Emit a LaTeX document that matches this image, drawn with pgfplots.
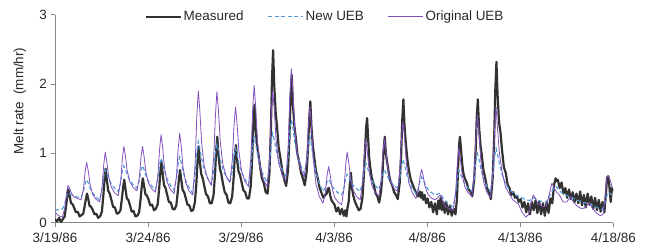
\documentclass[border=0pt]{standalone}
\usepackage{fontspec}
\setmainfont{Liberation Sans}
\usepackage{pgfplots}
\pgfplotsset{compat=1.18}
\definecolor{meas}{RGB}{50,50,50}
\definecolor{newueb}{RGB}{80,155,215}
\definecolor{origueb}{RGB}{130,80,190}
\definecolor{axgray}{RGB}{134,134,134}
\definecolor{txt}{RGB}{40,40,40}
\begin{document}
\begin{tikzpicture}[x=1bp,y=1bp,font=\fontsize{13.5}{16}\selectfont]
\useasboundingbox (0,0) rectangle (649,250);
\begin{axis}[
  at={(55bp,27.3bp)}, anchor=south west,
  width=558.3bp, height=208bp, scale only axis,
  xmin=0, xmax=30, ymin=0, ymax=3,
  axis x line*=bottom, axis y line*=left,
  axis line style={axgray, line width=0.8pt},
  xtick={0,5,10,15,20,25,30},
  xticklabels={3/19/86,3/24/86,3/29/86,4/3/86,4/8/86,4/13/86,4/18/86},
  ytick={0,1,2,3},
  tick align=outside, major tick length=4.5bp,
  tick style={axgray, line width=0.8pt},
  ticklabel style={text=txt},
  xticklabel style={yshift=-2.5bp},
  /pgf/number format/assume math mode=true,
  ylabel={Melt rate\ \ (mm/hr)},
  ylabel style={at={(axis description cs:-0.063,0.585)}, anchor=center, text=txt},
  legend columns=3,
  legend style={at={(0.4836,0.99)}, anchor=center, draw=none, fill=none, text=txt,
    /tikz/every even column/.append style={column sep=22bp}},
  legend image code/.code={\draw[#1] (0bp,0bp) -- (35bp,0bp);},
]
\addplot[meas, line width=2.2pt, line join=round] coordinates {
(0.00,0.05) (0.12,0.02) (0.22,0.07) (0.32,0.01) (0.42,0.05) (0.52,0.09) (0.60,0.25) (0.66,0.38) (0.72,0.48) (0.78,0.40) (0.86,0.28) (0.94,0.27)
(1.02,0.22) (1.12,0.15) (1.22,0.16) (1.32,0.09) (1.42,0.11) (1.52,0.13) (1.60,0.25) (1.66,0.34) (1.72,0.42) (1.78,0.35) (1.86,0.24) (1.94,0.23)
(2.02,0.19) (2.12,0.12) (2.22,0.13) (2.32,0.07) (2.42,0.09) (2.52,0.16) (2.60,0.40) (2.66,0.62) (2.72,0.78) (2.78,0.63) (2.86,0.46) (2.94,0.42)
(3.02,0.34) (3.12,0.23) (3.22,0.22) (3.32,0.13) (3.42,0.14) (3.52,0.18) (3.60,0.36) (3.66,0.51) (3.72,0.62) (3.78,0.50) (3.86,0.35) (3.94,0.33)
(4.02,0.26) (4.12,0.16) (4.22,0.17) (4.32,0.09) (4.42,0.10) (4.52,0.15) (4.60,0.34) (4.66,0.52) (4.72,0.64) (4.78,0.54) (4.86,0.41) (4.94,0.39)
(5.02,0.34) (5.12,0.25) (5.22,0.26) (5.32,0.18) (5.42,0.20) (5.52,0.27) (5.60,0.50) (5.66,0.73) (5.72,0.88) (5.78,0.72) (5.86,0.54) (5.94,0.50)
(6.02,0.41) (6.12,0.30) (6.22,0.29) (6.32,0.20) (6.42,0.19) (6.52,0.25) (6.60,0.45) (6.66,0.63) (6.72,0.76) (6.78,0.63) (6.86,0.47) (6.94,0.44)
(7.02,0.36) (7.12,0.26) (7.22,0.25) (7.32,0.17) (7.42,0.18) (7.52,0.30) (7.60,0.58) (7.66,0.90) (7.72,1.10) (7.78,0.88) (7.86,0.70) (7.94,0.64)
(8.02,0.53) (8.12,0.41) (8.22,0.38) (8.32,0.28) (8.42,0.28) (8.52,0.40) (8.60,0.70) (8.66,1.04) (8.72,1.24) (8.78,0.99) (8.86,0.78) (8.94,0.70)
(9.02,0.57) (9.12,0.44) (9.22,0.40) (9.32,0.29) (9.42,0.28) (9.52,0.38) (9.60,0.65) (9.66,0.95) (9.72,1.12) (9.78,0.92) (9.86,0.74) (9.94,0.69)
(10.02,0.59) (10.12,0.47) (10.22,0.44) (10.32,0.35) (10.42,0.35) (10.52,0.53) (10.60,0.95) (10.66,1.42) (10.72,1.70) (10.78,1.37) (10.86,1.10) (10.94,0.97)
(11.02,0.81) (11.12,0.64) (11.22,0.57) (11.32,0.44) (11.42,0.42) (11.52,0.71) (11.60,1.34) (11.66,2.07) (11.72,2.49) (11.78,1.99) (11.86,1.58) (11.94,1.36)
(12.02,1.08) (12.12,0.92) (12.22,0.74) (12.32,0.62) (12.42,0.53) (12.52,0.75) (12.60,1.24) (12.66,1.80) (12.72,2.13) (12.78,1.73) (12.86,1.40) (12.94,1.22)
(13.02,1.00) (13.12,0.88) (13.22,0.72) (13.32,0.64) (13.42,0.54) (13.52,0.73) (13.60,1.09) (13.66,1.50) (13.72,1.75) (13.78,1.38) (13.86,1.10) (13.94,0.92)
(14.02,0.75) (14.12,0.64) (14.22,0.50) (14.32,0.43) (14.42,0.36) (14.52,0.40) (14.60,0.42) (14.66,0.49) (14.72,0.50) (14.78,0.40) (14.86,0.32) (14.94,0.29)
(15.02,0.26) (15.12,0.16) (15.22,0.22) (15.32,0.12) (15.42,0.20) (15.52,0.10) (15.60,0.18) (15.66,0.09) (15.72,0.22) (15.78,0.30) (15.84,0.55) (15.90,0.72) (15.96,0.50)
(16.02,0.40) (16.12,0.30) (16.22,0.24) (16.32,0.18) (16.42,0.20) (16.52,0.36) (16.60,0.70) (16.66,1.05) (16.72,1.38) (16.77,1.51) (16.82,1.25) (16.88,0.95) (16.94,0.80)
(17.02,0.65) (17.12,0.56) (17.22,0.43) (17.32,0.38) (17.42,0.29) (17.52,0.45) (17.60,0.72) (17.66,1.06) (17.72,1.24) (17.78,1.00) (17.86,0.85) (17.94,0.71)
(18.02,0.60) (18.12,0.54) (18.22,0.44) (18.32,0.40) (18.42,0.34) (18.52,0.57) (18.60,0.99) (18.66,1.49) (18.72,1.78) (18.78,1.40) (18.86,1.12) (18.94,0.90)
(19.02,0.75) (19.12,0.62) (19.22,0.55) (19.32,0.48) (19.42,0.42) (19.52,0.38) (19.60,0.45) (19.66,0.36) (19.72,0.44) (19.78,0.33) (19.86,0.40) (19.94,0.28)
(20.02,0.35) (20.12,0.22) (20.22,0.30) (20.32,0.15) (20.42,0.28) (20.52,0.12) (20.60,0.32) (20.66,0.20) (20.72,0.36) (20.78,0.18) (20.86,0.30) (20.94,0.14)
(21.02,0.30) (21.12,0.12) (21.22,0.25) (21.32,0.10) (21.42,0.20) (21.52,0.12) (21.60,0.35) (21.66,0.80) (21.72,1.15) (21.76,1.24) (21.82,1.05) (21.88,0.85) (21.94,0.72)
(22.02,0.64) (22.12,0.58) (22.22,0.48) (22.32,0.45) (22.42,0.38) (22.52,0.61) (22.60,1.02) (22.66,1.50) (22.72,1.78) (22.78,1.41) (22.86,1.12) (22.94,0.96)
(23.02,0.76) (23.12,0.64) (23.22,0.50) (23.32,0.43) (23.42,0.34) (23.52,0.65) (23.60,1.24) (23.66,1.92) (23.72,2.32) (23.78,1.85) (23.86,1.45) (23.94,1.30)
(24.02,1.05) (24.12,0.80) (24.22,0.72) (24.32,0.55) (24.42,0.50) (24.52,0.40) (24.62,0.44) (24.72,0.36) (24.82,0.38) (24.92,0.30)
(25.02,0.34) (25.12,0.22) (25.22,0.30) (25.32,0.15) (25.42,0.28) (25.52,0.12) (25.62,0.30) (25.72,0.18) (25.82,0.32) (25.92,0.14)
(26.02,0.30) (26.12,0.12) (26.22,0.28) (26.32,0.10) (26.42,0.30) (26.52,0.14) (26.62,0.35) (26.72,0.28) (26.82,0.55) (26.90,0.64) (26.96,0.60)
(27.02,0.62) (27.12,0.50) (27.22,0.58) (27.32,0.42) (27.42,0.50) (27.52,0.36) (27.62,0.48) (27.72,0.34) (27.82,0.44) (27.92,0.30)
(28.02,0.42) (28.12,0.28) (28.22,0.45) (28.32,0.25) (28.42,0.40) (28.52,0.22) (28.62,0.42) (28.72,0.26) (28.82,0.38) (28.92,0.20)
(29.02,0.36) (29.12,0.18) (29.22,0.33) (29.32,0.16) (29.42,0.30) (29.52,0.15) (29.60,0.40) (29.66,0.65) (29.72,0.67) (29.78,0.55) (29.86,0.30) (29.92,0.50) (29.96,0.45)
};
\addlegendentry{Measured}
\addplot[newueb, line width=1.1pt, dash pattern=on 4bp off 2.5bp] coordinates {
(0.00,0.18) (0.20,0.19) (0.40,0.20) (0.53,0.28) (0.62,0.38) (0.70,0.43) (0.78,0.42) (0.88,0.40)
(1.02,0.39) (1.20,0.37) (1.40,0.36) (1.53,0.45) (1.62,0.57) (1.70,0.62) (1.78,0.58) (1.88,0.50)
(2.02,0.43) (2.20,0.37) (2.40,0.33) (2.53,0.48) (2.62,0.67) (2.70,0.76) (2.78,0.71) (2.88,0.64)
(3.02,0.56) (3.20,0.50) (3.40,0.45) (3.53,0.58) (3.62,0.75) (3.70,0.82) (3.78,0.77) (3.88,0.69)
(4.02,0.61) (4.20,0.55) (4.40,0.50) (4.53,0.61) (4.62,0.76) (4.70,0.82) (4.78,0.77) (4.88,0.68)
(5.02,0.60) (5.20,0.53) (5.40,0.48) (5.53,0.64) (5.62,0.84) (5.70,0.93) (5.78,0.86) (5.88,0.75)
(6.02,0.63) (6.20,0.54) (6.40,0.47) (6.53,0.64) (6.62,0.85) (6.70,0.95) (6.78,0.87) (6.88,0.74)
(7.02,0.61) (7.20,0.51) (7.40,0.43) (7.53,0.69) (7.62,1.02) (7.70,1.17) (7.78,1.08) (7.88,0.92)
(8.02,0.77) (8.20,0.64) (8.40,0.55) (8.53,0.75) (8.62,1.01) (8.70,1.13) (8.78,1.05) (8.88,0.91)
(9.02,0.77) (9.20,0.66) (9.40,0.58) (9.53,0.75) (9.62,0.97) (9.70,1.07) (9.78,0.99) (9.88,0.86)
(10.02,0.73) (10.20,0.63) (10.40,0.55) (10.53,0.79) (10.62,1.10) (10.70,1.24) (10.78,1.14) (10.88,0.98)
(11.02,0.81) (11.20,0.68) (11.40,0.58) (11.53,0.83) (11.62,1.15) (11.70,1.29) (11.78,1.20) (11.88,1.05)
(12.02,0.89) (12.20,0.77) (12.40,0.68) (12.53,0.96) (12.62,1.32) (12.70,1.48) (12.78,1.37) (12.88,1.17)
(13.02,0.98) (13.20,0.83) (13.40,0.71) (13.53,0.90) (13.62,1.13) (13.70,1.24) (13.78,1.12) (13.88,0.92)
(14.02,0.73) (14.20,0.57) (14.40,0.45) (14.53,0.51) (14.62,0.59) (14.70,0.62) (14.78,0.59) (14.88,0.53)
(15.02,0.48) (15.20,0.43) (15.40,0.40) (15.53,0.51) (15.62,0.64) (15.70,0.70) (15.78,0.66) (15.88,0.60)
(16.02,0.54) (16.20,0.49) (16.40,0.45) (16.53,0.59) (16.62,0.78) (16.70,0.86) (16.78,0.80) (16.88,0.71)
(17.02,0.61) (17.20,0.54) (17.40,0.48) (17.53,0.58) (17.62,0.70) (17.70,0.76) (17.78,0.72) (17.88,0.66)
(18.02,0.59) (18.20,0.54) (18.40,0.50) (18.53,0.64) (18.62,0.83) (18.70,0.91) (18.78,0.84) (18.88,0.71)
(19.02,0.59) (19.20,0.49) (19.40,0.42) (19.53,0.50) (19.62,0.61) (19.70,0.66) (19.78,0.62) (19.88,0.56)
(20.02,0.49) (20.20,0.44) (20.40,0.40) (20.53,0.41) (20.62,0.42) (20.70,0.42) (20.78,0.39) (20.88,0.34)
(21.02,0.30) (21.20,0.26) (21.40,0.23) (21.53,0.42) (21.62,0.65) (21.70,0.76) (21.78,0.71) (21.88,0.64)
(22.02,0.56) (22.20,0.50) (22.40,0.45) (22.53,0.64) (22.62,0.89) (22.70,1.00) (22.78,0.92) (22.88,0.78)
(23.02,0.64) (23.20,0.53) (23.40,0.45) (23.53,0.67) (23.62,0.95) (23.70,1.07) (23.78,0.98) (23.88,0.85)
(24.02,0.70) (24.20,0.57) (24.40,0.48) (24.70,0.41) (25.00,0.37) (25.30,0.33) (25.50,0.32) (25.70,0.36) (25.85,0.34) (26.10,0.31) (26.40,0.30) (26.60,0.40) (26.80,0.50) (26.95,0.52) (27.10,0.46) (27.30,0.42) (27.60,0.38) (27.80,0.36) (28.10,0.32) (28.40,0.29) (28.70,0.28) (28.90,0.25) (29.20,0.21) (29.40,0.19) (29.55,0.28) (29.70,0.43) (29.85,0.42) (29.95,0.38)
};
\addlegendentry{New UEB}
\addplot[origueb, line width=0.8pt, line join=round] coordinates {
(0.00,0.15) (0.20,0.10) (0.40,0.08) (0.53,0.22) (0.62,0.43) (0.70,0.54) (0.78,0.50) (0.88,0.43)
(1.02,0.37) (1.20,0.35) (1.40,0.33) (1.53,0.49) (1.62,0.74) (1.70,0.87) (1.78,0.76) (1.88,0.56)
(2.02,0.41) (2.20,0.34) (2.40,0.30) (2.53,0.52) (2.62,0.84) (2.70,1.02) (2.78,0.89) (2.88,0.67)
(3.02,0.52) (3.20,0.43) (3.40,0.39) (3.53,0.60) (3.62,0.92) (3.70,1.10) (3.78,0.97) (3.88,0.75)
(4.02,0.59) (4.20,0.51) (4.40,0.46) (4.53,0.65) (4.62,0.94) (4.70,1.10) (4.78,0.97) (4.88,0.74)
(5.02,0.57) (5.20,0.49) (5.40,0.44) (5.53,0.69) (5.62,1.06) (5.70,1.27) (5.78,1.10) (5.88,0.80)
(6.02,0.59) (6.20,0.48) (6.40,0.42) (6.53,0.68) (6.62,1.07) (6.70,1.29) (6.78,1.11) (6.88,0.80)
(7.02,0.58) (7.20,0.46) (7.40,0.40) (7.53,0.85) (7.62,1.53) (7.70,1.90) (7.78,1.63) (7.88,1.15)
(8.02,0.81) (8.20,0.64) (8.40,0.54) (8.53,0.95) (8.62,1.55) (8.70,1.89) (8.78,1.63) (8.88,1.17)
(9.02,0.84) (9.20,0.67) (9.40,0.58) (9.53,0.91) (9.62,1.40) (9.70,1.67) (9.78,1.44) (9.88,1.04)
(10.02,0.75) (10.20,0.60) (10.40,0.52) (10.53,0.96) (10.62,1.62) (10.70,1.98) (10.78,1.69) (10.88,1.18)
(11.02,0.81) (11.20,0.62) (11.40,0.52) (11.53,0.93) (11.62,1.56) (11.70,1.90) (11.78,1.64) (11.88,1.19)
(12.02,0.86) (12.20,0.69) (12.40,0.60) (12.53,1.09) (12.62,1.82) (12.70,2.22) (12.78,1.91) (12.88,1.36)
(13.02,0.97) (13.20,0.77) (13.40,0.66) (13.53,0.96) (13.62,1.42) (13.70,1.67) (13.78,1.39) (13.88,0.91)
(14.02,0.56) (14.20,0.38) (14.40,0.28) (14.53,0.44) (14.62,0.68) (14.70,0.81) (14.78,0.70) (14.88,0.51)
(15.02,0.37) (15.20,0.30) (15.40,0.26) (15.53,0.49) (15.62,0.83) (15.70,1.02) (15.78,0.88) (15.88,0.64)
(16.02,0.47) (16.20,0.38) (16.40,0.33) (16.53,0.59) (16.62,0.98) (16.70,1.19) (16.78,1.03) (16.88,0.75)
(17.02,0.54) (17.20,0.44) (17.40,0.38) (17.53,0.63) (17.62,1.00) (17.70,1.21) (17.78,1.06) (17.88,0.79)
(18.02,0.60) (18.20,0.50) (18.40,0.45) (18.53,0.75) (18.62,1.21) (18.70,1.46) (18.78,1.24) (18.88,0.85)
(19.02,0.57) (19.20,0.43) (19.40,0.35) (19.53,0.48) (19.62,0.67) (19.70,0.77) (19.78,0.68) (19.88,0.53)
(20.02,0.42) (20.20,0.36) (20.40,0.33) (20.53,0.35) (20.62,0.38) (20.70,0.40) (20.78,0.36) (20.88,0.28)
(21.02,0.22) (21.20,0.20) (21.40,0.18) (21.53,0.45) (21.62,0.85) (21.70,1.07) (21.78,0.93) (21.88,0.69)
(22.02,0.52) (22.20,0.43) (22.40,0.38) (22.53,0.73) (22.62,1.26) (22.70,1.55) (22.78,1.31) (22.88,0.90)
(23.02,0.60) (23.20,0.44) (23.40,0.36) (23.53,0.75) (23.62,1.34) (23.70,1.67) (23.78,1.35) (23.88,1.00)
(24.02,0.74) (24.20,0.52) (24.40,0.42) (24.60,0.33) (24.90,0.27) (25.10,0.15) (25.30,0.08) (25.45,0.12) (25.58,0.28) (25.70,0.40) (25.80,0.36) (25.95,0.28) (26.20,0.23) (26.40,0.24) (26.55,0.40) (26.70,0.57) (26.80,0.52) (26.95,0.44) (27.10,0.40) (27.30,0.30) (27.50,0.30) (27.70,0.37) (27.85,0.30) (28.05,0.24) (28.30,0.20) (28.50,0.22) (28.70,0.29) (28.85,0.22) (29.05,0.15) (29.30,0.10) (29.45,0.12) (29.55,0.35) (29.65,0.66) (29.75,0.68) (29.85,0.60) (29.95,0.50)
};
\addlegendentry{Original UEB}
\end{axis}
\end{tikzpicture}
\end{document}
